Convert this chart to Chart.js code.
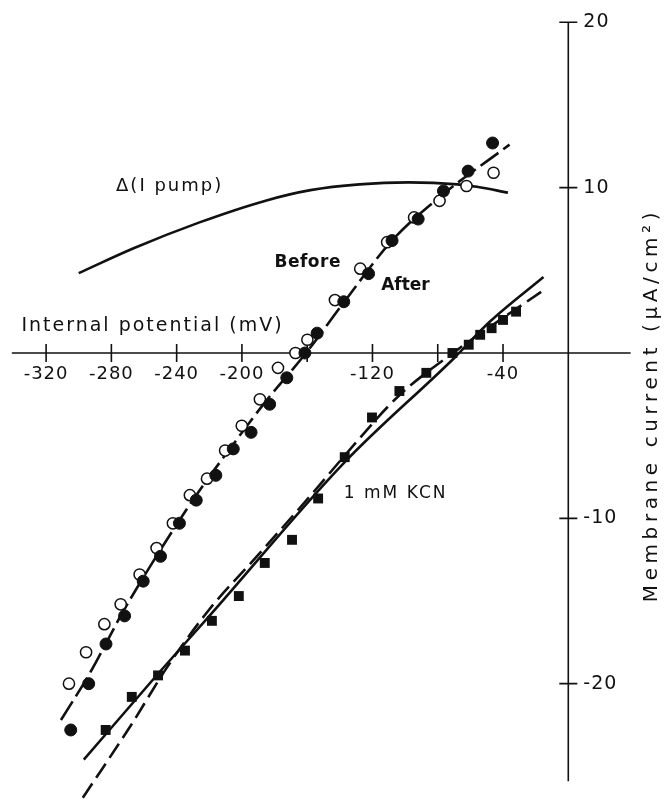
<!DOCTYPE html>
<html>
<head>
<meta charset="utf-8">
<script src="https://cdn.jsdelivr.net/npm/chart.js@4.4.1/dist/chart.umd.min.js"></script>
<style>
html,body{margin:0;padding:0;background:#fff;}
#wrap{width:672px;height:807px;position:relative;}
</style>
</head>
<body>
<div id="wrap"><canvas id="c" width="672" height="807"></canvas></div>
<script>
// ---- Data ----
// Internal potential (mV) / membrane current (uA/cm2)
const openX   = [-306.0,-295.5,-284.3,-274.3,-262.7,-252.3,-242.3,-231.9,-221.4,-210.3,-200.1,-189.0,-177.9,-167.2,-159.9,-143.0,-127.5,-111.0,-94.5,-78.9,-62.4,-45.8];
const openY   = [-20.0,-18.1,-16.4,-15.2,-13.4,-11.8,-10.3,-8.6,-7.6,-5.9,-4.4,-2.8,-0.9,0.0,0.8,3.2,5.1,6.7,8.2,9.2,10.1,10.9];
const filledX = [-304.9,-293.9,-283.3,-271.9,-260.5,-249.9,-238.3,-228.0,-216.0,-205.3,-194.4,-183.0,-172.5,-161.4,-153.9,-137.6,-122.4,-108.0,-92.0,-76.5,-61.4,-46.4];
const filledY = [-22.8,-20.0,-17.6,-15.9,-13.8,-12.3,-10.3,-8.9,-7.4,-5.8,-4.8,-3.1,-1.5,0.0,1.2,3.1,4.8,6.8,8.1,9.8,11.0,12.7];
const kcnX    = [-283.5,-267.5,-251.4,-234.9,-218.4,-201.9,-186.0,-169.3,-153.3,-137.0,-120.3,-103.5,-87.0,-71.0,-61.0,-54.0,-47.0,-40.0,-32.0];
const kcnY    = [-22.8,-20.8,-19.5,-18.0,-16.2,-14.7,-12.7,-11.3,-8.8,-6.3,-3.9,-2.3,-1.2,0.0,0.5,1.1,1.5,2.0,2.5];

// drawn curves
const fitX    = [-310.9,-294.0,-272.0,-249.9,-228.0,-205.9,-186.0,-159.9,-138.0,-108.0,-78.0,-36.0];
const fitY    = [-22.2,-19.5,-15.5,-11.9,-8.6,-5.6,-3.0,0.1,3.0,6.8,9.5,12.6];
const pumpX   = [-300.0,-266.0,-226.0,-186.0,-158.0,-128.0,-98.0,-68.0,-56.0,-37.0];
const pumpY   = [4.83,6.35,7.9,9.2,9.85,10.2,10.32,10.2,10.05,9.7];
const kcnSolidX = [-296.9,-251.4,-219.9,-137.0,-69.9,-48.0,-15.2];
const kcnSolidY = [-24.6,-19.4,-15.9,-6.6,-0.3,1.9,4.6];
const kcnDashX  = [-297.5,-267.9,-245.8,-219.9,-189.9,-156.0,-137.0,-104.0,-72.0,-15.2];
const kcnDashY  = [-26.9,-22.5,-19.0,-15.5,-12.2,-8.4,-6.2,-2.6,-0.1,3.8];

// ticks
const xTickValues = [-320,-280,-240,-200,-160,-120,-80,-40];
const xTickLabels = ['-320','-280','-240','-200','','-120','','-40'];
const yTickValues = [20,10,-10,-20];
const yTickLabels = ['20','10','-10','-20'];

// ---- Layout / style (separate from data) ----
const X_MIN = -343.9, X_MAX = 59.2, Y_MIN = -27.03, Y_MAX = 20.92;
const X_AXIS_FROM = -341, X_AXIS_TO = 38.2;
const Y_AXIS_FROM = -25.9, Y_AXIS_TO = 20;
const FONT = '"DejaVu Sans", "Liberation Sans", sans-serif';

const pts = (xs, ys) => xs.map((x, i) => ({x: x, y: ys[i]}));

const axesPlugin = {
  id: 'crossAxes',
  beforeDatasetsDraw(chart) {
    const ctx = chart.ctx, sx = chart.scales.x, sy = chart.scales.y;
    const x0 = sx.getPixelForValue(0), y0 = sy.getPixelForValue(0);
    ctx.save();
    ctx.strokeStyle = '#111';
    ctx.lineWidth = 1.6;
    ctx.beginPath();
    ctx.moveTo(sx.getPixelForValue(X_AXIS_FROM), y0);
    ctx.lineTo(sx.getPixelForValue(X_AXIS_TO), y0);
    ctx.moveTo(x0, sy.getPixelForValue(Y_AXIS_TO));
    ctx.lineTo(x0, sy.getPixelForValue(Y_AXIS_FROM));
    xTickValues.forEach(v => { const p = sx.getPixelForValue(v); ctx.moveTo(p, y0 - 9); ctx.lineTo(p, y0 + 9); });
    yTickValues.forEach(v => { const p = sy.getPixelForValue(v); ctx.moveTo(x0 - 9, p); ctx.lineTo(x0 + 9, p); });
    ctx.stroke();

    ctx.fillStyle = '#111';
    ctx.font = '18px ' + FONT;
    ctx.letterSpacing = '1px';
    ctx.textAlign = 'center';
    ctx.textBaseline = 'middle';
    xTickValues.forEach((v, i) => {
      if (xTickLabels[i]) ctx.fillText(xTickLabels[i], sx.getPixelForValue(v), y0 + 21);
    });
    ctx.font = '19px ' + FONT;
    ctx.textAlign = 'left';
    yTickValues.forEach((v, i) => ctx.fillText(yTickLabels[i], x0 + 15, sy.getPixelForValue(v)));
    ctx.restore();
  },
  afterDatasetsDraw(chart) {
    const ctx = chart.ctx, sx = chart.scales.x, sy = chart.scales.y;
    ctx.save();
    ctx.fillStyle = '#111';
    ctx.textBaseline = 'middle';
    ctx.textAlign = 'center';
    const put = (t, x, y, font, sp) => { ctx.font = font; ctx.letterSpacing = sp; ctx.fillText(t, sx.getPixelForValue(x), sy.getPixelForValue(y)); };
    put('Δ(I pump)', -244.3, 10.1, '18px ' + FONT, '2px');
    put('Before', -159.7, 5.47, 'bold 17px ' + FONT, '0.5px');
    put('After', -99.8, 4.1, 'bold 17px ' + FONT, '0px');
    put('1 mM KCN', -105.8, -8.5, '17px ' + FONT, '2px');
    put('Internal potential (mV)', -254.8, 1.6, '19px ' + FONT, '2px');
    // y-axis title, rotated
    ctx.translate(sx.getPixelForValue(51.4), sy.getPixelForValue(-3.15));
    ctx.rotate(-Math.PI / 2);
    ctx.font = '20px ' + FONT;
    ctx.letterSpacing = '4.6px';
    ctx.fillText('Membrane current (μA/cm²)', 0, 0);
    ctx.restore();
  }
};

const lineDs = (label, xs, ys, dash, order, smooth) => Object.assign({
  type: 'line', label: label, data: pts(xs, ys), borderColor: '#111', borderWidth: 2.6,
  borderDash: dash, pointRadius: 0, fill: false, order: order
}, smooth);

new Chart(document.getElementById('c').getContext('2d'), {
  type: 'scatter',
  data: {
    datasets: [
      { label: 'After', data: pts(filledX, filledY), pointStyle: 'circle', pointRadius: 6,
        backgroundColor: '#111', borderColor: '#111', borderWidth: 1, order: 1 },
      { label: 'Before', data: pts(openX, openY), pointStyle: 'circle', pointRadius: 5.6,
        backgroundColor: '#fff', borderColor: '#111', borderWidth: 1.5, order: 1 },
      { label: '1 mM KCN', data: pts(kcnX, kcnY), pointStyle: 'rect', pointRadius: 7,
        backgroundColor: '#111', borderColor: '#111', borderWidth: 0, order: 1 },
      lineDs('Before/After fit', fitX, fitY, [22, 6], 2, { cubicInterpolationMode: 'monotone' }),
      lineDs('Δ(I pump)', pumpX, pumpY, [], 2, { cubicInterpolationMode: 'monotone' }),
      lineDs('KCN fit solid', kcnSolidX, kcnSolidY, [], 2, { cubicInterpolationMode: 'monotone' }),
      lineDs('KCN fit dashed', kcnDashX, kcnDashY, [17, 7], 2, { cubicInterpolationMode: 'monotone' })
    ]
  },
  options: {
    responsive: false, animation: false, devicePixelRatio: 1, events: [],
    layout: { padding: 0 },
    plugins: { legend: { display: false }, tooltip: { enabled: false } },
    scales: {
      x: { type: 'linear', display: false, min: X_MIN, max: X_MAX },
      y: { type: 'linear', display: false, min: Y_MIN, max: Y_MAX }
    }
  },
  plugins: [axesPlugin]
});
</script>
</body>
</html>
